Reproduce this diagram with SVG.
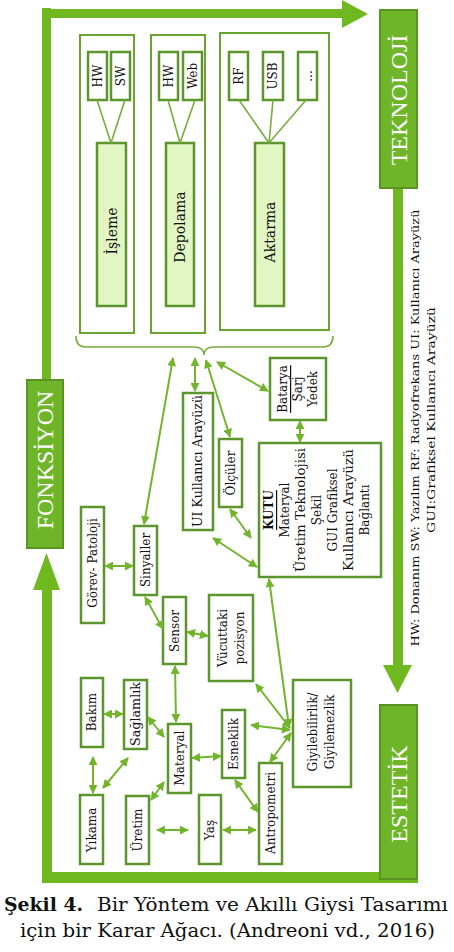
<svg xmlns="http://www.w3.org/2000/svg" width="454" height="952" viewBox="0 0 454 952">
<style>
.bg{fill:#ffffff}
.frame{fill:#6fb81f}
.title{fill:#6fb52a;stroke:#5a9420;stroke-width:2}
.ttxt{font-family:"Liberation Serif",serif;font-size:24px;fill:#ffffff;text-anchor:middle;dominant-baseline:central}
.cont{fill:#ffffff;stroke:#6aa531;stroke-width:2}
.box{fill:#ffffff;stroke:#5c952c;stroke-width:2.5}
.lbox{fill:#e2f6c4;stroke:#5c952c;stroke-width:2.5}
.t{font-family:"DejaVu Serif",serif;font-size:12px;fill:#111111;text-anchor:middle;dominant-baseline:central}
.tb{font-size:14px}
.leg{font-family:"DejaVu Serif",serif;font-size:11px;fill:#111111;text-anchor:middle;dominant-baseline:central}
.tl{stroke:#78ad3c;stroke-width:1.6;fill:none}
.ar{stroke:#72b52c;stroke-width:2;fill:none;marker-start:url(#ah);marker-end:url(#ah)}
.cap{font-family:"DejaVu Serif",serif;font-size:18px;fill:#111111}
</style>
<defs>
<marker id="ah" viewBox="0 0 10 10" refX="9" refY="5" markerUnits="userSpaceOnUse" markerWidth="9" markerHeight="9" orient="auto-start-reverse">
<path d="M0,0 L10,5 L0,10 z" fill="#72b52c"/>
</marker>
</defs>
<rect class="bg" x="0" y="0" width="454" height="952"/>

<g id="frame">
<rect class="frame" x="42" y="8" width="9" height="372"/>
<rect class="frame" x="42" y="9" width="302" height="9"/>
<polygon class="frame" points="342,0 368,14 342,28"/>
<rect class="frame" x="393" y="188" width="10" height="478"/>
<polygon class="frame" points="383,665 412,665 397.5,693"/>
<rect class="frame" x="42" y="588" width="10" height="295"/>
<polygon class="frame" points="33,590 60,590 46.5,553"/>
<rect class="frame" x="42" y="872" width="376" height="11"/>
</g>

<g id="teknoloji">
<rect class="title" x="380" y="10" width="37" height="178"/>
<text class="ttxt" transform="translate(399,100) rotate(-90)">TEKNOLOJİ</text>
</g>
<g id="fonksiyon">
<rect class="title" x="27" y="380" width="36" height="168"/>
<text class="ttxt" transform="translate(45,460) rotate(-90)">FONKSİYON</text>
</g>
<g id="estetik">
<rect class="title" x="380" y="705" width="37" height="174"/>
<text class="ttxt" transform="translate(399,794) rotate(-90)">ESTETİK</text>
</g>

<g id="isleme-group">
<rect class="cont" x="80" y="35" width="54" height="298"/>
<g id="isleme-hw"><rect class="box" x="88" y="52" width="19" height="48"/><text class="t" transform="translate(97.5,76) rotate(-90)">HW</text></g>
<g id="isleme-sw"><rect class="box" x="111" y="52" width="19" height="48"/><text class="t" transform="translate(120.5,76) rotate(-90)">SW</text></g>
<g id="isleme"><rect class="lbox" x="97" y="143" width="29" height="163"/><text class="t tb" transform="translate(111.5,231) rotate(-90)">İşleme</text></g>
</g>
<g id="depolama-group">
<rect class="cont" x="151" y="35" width="54" height="298"/>
<g id="depolama-hw"><rect class="box" x="159" y="52" width="19" height="48"/><text class="t" transform="translate(168.5,76) rotate(-90)">HW</text></g>
<g id="depolama-web"><rect class="box" x="183" y="52" width="19" height="48"/><text class="t" transform="translate(192.5,76) rotate(-90)">Web</text></g>
<g id="depolama"><rect class="lbox" x="166" y="143" width="28" height="163"/><text class="t tb" transform="translate(180,227) rotate(-90)">Depolama</text></g>
</g>
<g id="aktarma-group">
<rect class="cont" x="220" y="33" width="109" height="297"/>
<g id="aktarma-rf"><rect class="box" x="229" y="52" width="19" height="48"/><text class="t" transform="translate(238.5,76) rotate(-90)">RF</text></g>
<g id="aktarma-usb"><rect class="box" x="263" y="52" width="20" height="48"/><text class="t" transform="translate(273,76) rotate(-90)">USB</text></g>
<g id="aktarma-dots"><rect class="box" x="298" y="52" width="19" height="48"/><text class="t" transform="translate(307.5,76) rotate(-90)">...</text></g>
<g id="aktarma"><rect class="lbox" x="255" y="143" width="29" height="163"/><text class="t tb" transform="translate(269.5,232) rotate(-90)">Aktarma</text></g>
</g>

<g id="ui"><rect class="box" x="183" y="393" width="30" height="137"/><text class="t" transform="translate(198,461) rotate(-90)" textLength="132" lengthAdjust="spacingAndGlyphs">UI Kullanıcı Arayüzü</text></g>
<g id="olculer"><rect class="box" x="219" y="439" width="23" height="68"/><text class="t" transform="translate(230.5,473) rotate(-90)">Ölçüler</text></g>
<g id="batarya"><rect class="box" x="270" y="358" width="56" height="62"/>
<text class="t" transform="translate(283,389) rotate(-90)" text-decoration="underline">Batarya</text>
<text class="t" transform="translate(298,389) rotate(-90)">Şarj</text>
<text class="t" transform="translate(313,389) rotate(-90)">Yedek</text></g>
<g id="kutu"><rect class="box" x="259" y="443" width="122" height="134"/>
<text class="t" transform="translate(269,510) rotate(-90)" font-weight="bold" text-decoration="underline">KUTU</text>
<text class="t" transform="translate(285,510) rotate(-90)">Materyal</text>
<text class="t" transform="translate(301,510) rotate(-90)" textLength="124" lengthAdjust="spacingAndGlyphs">Üretim Teknolojisi</text>
<text class="t" transform="translate(317,510) rotate(-90)">Şekil</text>
<text class="t" transform="translate(333,510) rotate(-90)">GUI Grafiksel</text>
<text class="t" transform="translate(349,510) rotate(-90)" textLength="122" lengthAdjust="spacingAndGlyphs">Kullanıcı Arayüzü</text>
<text class="t" transform="translate(365,510) rotate(-90)">Bağlantı</text></g>
<g id="gorev"><rect class="box" x="81" y="507" width="23" height="116"/><text class="t" transform="translate(92.5,563) rotate(-90)">Görev- Patoloji</text></g>
<g id="sinyaller"><rect class="box" x="134" y="526" width="23" height="69"/><text class="t" transform="translate(145.5,560) rotate(-90)">Sinyaller</text></g>
<g id="sensor"><rect class="box" x="163" y="597" width="23" height="67"/><text class="t" transform="translate(174.5,631) rotate(-90)">Sensor</text></g>
<g id="vucut"><rect class="box" x="209" y="595" width="44" height="86"/>
<text class="t" transform="translate(223,638) rotate(-90)">Vücuttaki</text>
<text class="t" transform="translate(240,638) rotate(-90)">pozisyon</text></g>
<g id="bakim"><rect class="box" x="81" y="678" width="22" height="69"/><text class="t" transform="translate(92,712) rotate(-90)">Bakım</text></g>
<g id="saglamlik"><rect class="box" x="124" y="680" width="23" height="69"/><text class="t" transform="translate(135.5,714) rotate(-90)" textLength="64" lengthAdjust="spacingAndGlyphs">Sağlamlık</text></g>
<g id="materyal"><rect class="box" x="168" y="724" width="23" height="69"/><text class="t" transform="translate(179.5,758) rotate(-90)">Materyal</text></g>
<g id="esneklik"><rect class="box" x="222" y="710" width="23" height="68"/><text class="t" transform="translate(233.5,744) rotate(-90)">Esneklik</text></g>
<g id="giyilebilirlik"><rect class="box" x="293" y="680" width="58" height="107"/>
<text class="t" transform="translate(313,732) rotate(-90)">Giyilebilirlik/</text>
<text class="t" transform="translate(330,732) rotate(-90)">Giyilemezlik</text></g>
<g id="antropometri"><rect class="box" x="259" y="763" width="23" height="101"/><text class="t" transform="translate(270.5,813) rotate(-90)">Antropometri</text></g>
<g id="yikama"><rect class="box" x="80" y="795" width="23" height="69"/><text class="t" transform="translate(91.5,830) rotate(-90)">Yıkama</text></g>
<g id="uretim"><rect class="box" x="126" y="796" width="23" height="68"/><text class="t" transform="translate(137.5,830) rotate(-90)">Üretim</text></g>
<g id="yas"><rect class="box" x="199" y="795" width="22" height="69"/><text class="t" transform="translate(210,830) rotate(-90)">Yaş</text></g>

<g id="connectors">
<path class="tl" d="M97,100 L111,143 M125,100 L111,143"/>
<path class="tl" d="M168,100 L180,143 M195,100 L180,143"/>
<path class="tl" d="M239,100 L269,143 M273,100 L269,143 M306,100 L269,143"/>
<path class="tl" stroke="#79b93a" stroke-width="2" d="M76,336 Q76,347 86,347 H194 Q204,347 204,355 Q204,347 214,347 H323 Q333,347 333,336"/>
<line class="ar" x1="173" y1="358" x2="144" y2="524"/>
<line class="ar" x1="195" y1="358" x2="195" y2="391"/>
<line class="ar" x1="206" y1="360" x2="230" y2="437"/>
<line class="ar" x1="217" y1="362" x2="268" y2="391"/>
<line class="ar" x1="300" y1="421" x2="300" y2="442"/>
<line class="ar" x1="230" y1="509" x2="251" y2="538"/>
<line class="ar" x1="213" y1="538" x2="257" y2="567"/>
<line class="ar" x1="105" y1="566" x2="133" y2="566"/>
<line class="ar" x1="145" y1="597" x2="163" y2="629"/>
<line class="ar" x1="187" y1="632" x2="208" y2="636"/>
<line class="ar" x1="175" y1="666" x2="176" y2="722"/>
<line class="ar" x1="104" y1="714" x2="123" y2="714"/>
<line class="ar" x1="148" y1="717" x2="164" y2="737"/>
<line class="ar" x1="192" y1="758" x2="221" y2="756"/>
<line class="ar" x1="290" y1="728" x2="256" y2="684"/>
<line class="ar" x1="290" y1="730" x2="251" y2="725"/>
<line class="ar" x1="291" y1="733" x2="270" y2="762"/>
<line class="ar" x1="289" y1="727" x2="269" y2="579"/>
<line class="ar" x1="235" y1="780" x2="258" y2="812"/>
<line class="ar" x1="93" y1="757" x2="93" y2="793"/>
<line class="ar" x1="128" y1="758" x2="103" y2="788"/>
<line class="ar" x1="151" y1="800" x2="164" y2="782"/>
<line class="ar" x1="157" y1="830" x2="188" y2="830"/>
<line class="ar" x1="223" y1="830" x2="256" y2="830"/>
</g>

<g id="legend">
<text class="leg" transform="translate(415,428) rotate(-90)" textLength="437" lengthAdjust="spacingAndGlyphs">HW: Donanım SW: Yazılım RF: Radyofrekans UI: Kullanıcı Arayüzü</text>
<text class="leg" transform="translate(431,420) rotate(-90)" textLength="226" lengthAdjust="spacingAndGlyphs">GUI:Grafiksel Kullanıcı Arayüzü</text>
</g>

<g id="caption">
<text class="cap" x="4" y="911" font-weight="bold" textLength="79" lengthAdjust="spacingAndGlyphs">Şekil 4.</text>
<text class="cap" x="97" y="911" textLength="351" lengthAdjust="spacingAndGlyphs">Bir Yöntem ve Akıllı Giysi Tasarımı</text>
<text class="cap" x="20" y="937" textLength="415" lengthAdjust="spacingAndGlyphs">için bir Karar Ağacı. (Andreoni vd., 2016)</text>
</g>
</svg>
